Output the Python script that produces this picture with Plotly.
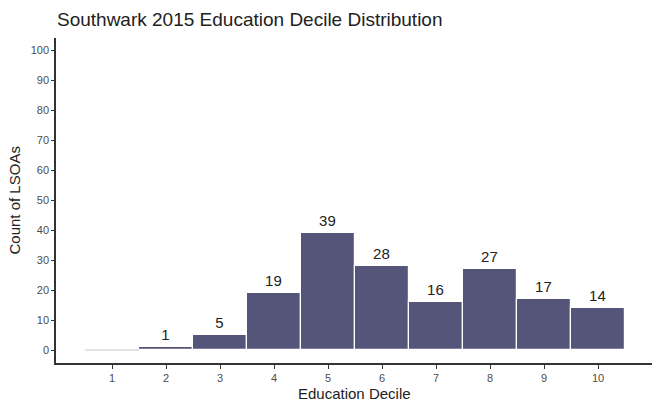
import plotly.graph_objects as go

deciles = [1, 2, 3, 4, 5, 6, 7, 8, 9, 10]
counts = [0, 1, 5, 19, 39, 28, 16, 27, 17, 14]
y_ticks = [0, 10, 20, 30, 40, 50, 60, 70, 80, 90, 100]

bar_color = "#55557a"
labels = [str(c) if c > 0 else "" for c in counts]
FONT = "Liberation Sans, Arial, sans-serif"

fig = go.Figure()
fig.add_trace(go.Bar(
    x=deciles, y=counts, text=labels, textposition="outside",
    textfont=dict(size=15, color="#222222", family=FONT),
    marker=dict(color=bar_color, line=dict(color="white", width=1.2)),
    width=1.0, cliponaxis=False, showlegend=False, hoverinfo="x+y",
))

# zero-count deciles drawn as faint baseline segments (as in the reference)
for d, c in zip(deciles, counts):
    if c == 0:
        fig.add_trace(go.Scatter(
            x=[d - 0.5, d + 0.5], y=[c, c], mode="lines",
            line=dict(color="#d9d9de", width=1.5), showlegend=False, hoverinfo="skip",
        ))

fig.update_layout(
    width=652, height=405,
    margin=dict(l=56, r=0, t=38, b=42),
    paper_bgcolor="white", plot_bgcolor="white",
    font=dict(family=FONT, color="#222222"),
    title=dict(text="Southwark 2015 Education Decile Distribution",
               x=57/652, xref="container", xanchor="left",
               y=1 - 19/405, yref="container", yanchor="middle",
               font=dict(size=19, color="#222222")),
    bargap=0,
    annotations=[
        dict(text="Education Decile", xref="paper", yref="paper", x=0.5, y=0,
             xanchor="center", yanchor="middle", yshift=-30, showarrow=False,
             font=dict(size=15, color="#222222", family=FONT)),
        dict(text="Count of LSOAs", xref="paper", yref="paper", x=0, y=0.5,
             xanchor="center", yanchor="middle", xshift=-42, textangle=-90,
             showarrow=False, font=dict(size=15, color="#222222", family=FONT)),
    ],
)
fig.update_xaxes(
    range=[-0.04, 11.0], tickmode="array", tickvals=deciles,
    ticktext=[str(d) for d in deciles],
    showline=True, linecolor="#333333", linewidth=1.5,
    ticks="outside", ticklen=4, tickcolor="#333333", tickwidth=1,
    tickfont=dict(size=11, color="#4d4d4d"),
    showgrid=False, zeroline=False, automargin=False,
)
fig.update_yaxes(
    range=[-4.3, 104.2], tickmode="array", tickvals=y_ticks,
    showline=True, linecolor="#333333", linewidth=1.5,
    ticks="outside", ticklen=3, tickcolor="#333333", tickwidth=1,
    tickfont=dict(size=11, color="#4d4d4d"),
    showgrid=False, zeroline=False, automargin=False,
)

fig.write_html("out.html", config={"displayModeBar": False},
               post_script="document.body.style.margin='0px';")
